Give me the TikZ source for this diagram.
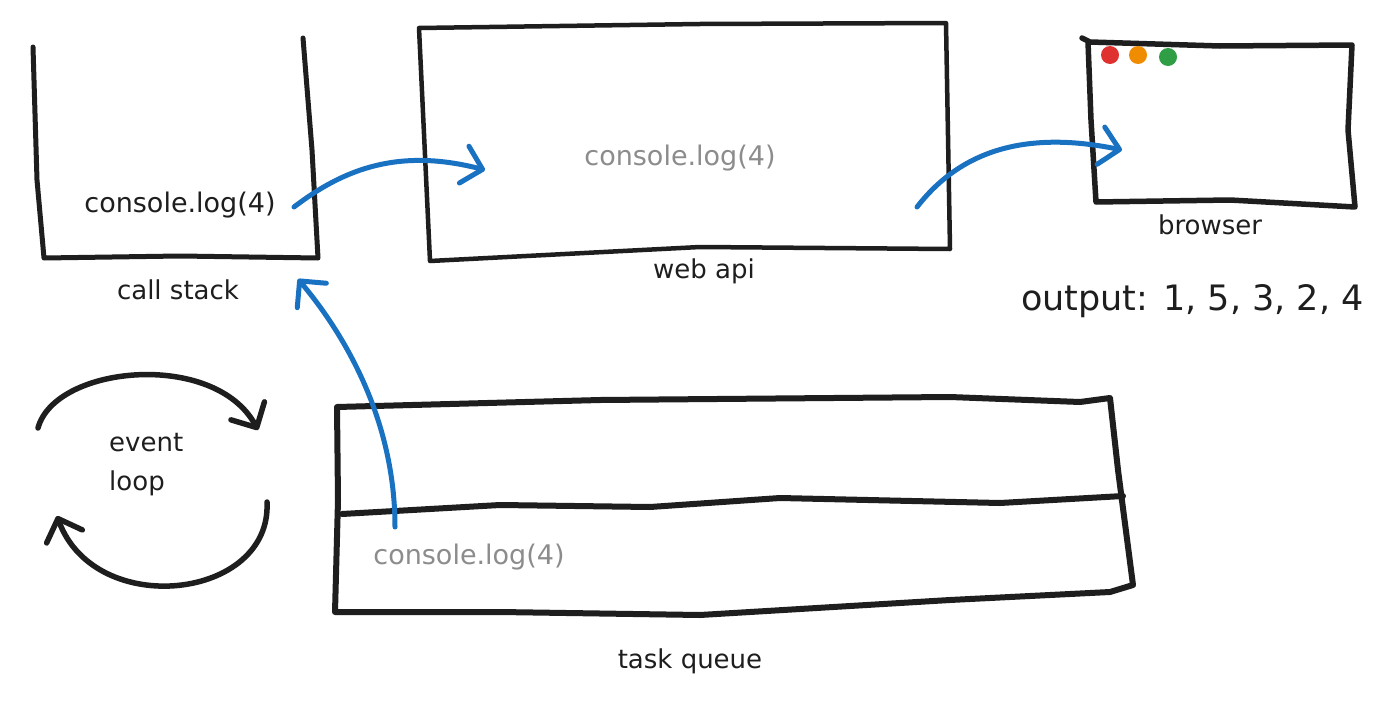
\documentclass[tikz,border=0pt]{standalone}
\usepackage{fontspec}
\setmainfont{DejaVu Sans}
\usetikzlibrary{arrows.meta}
\definecolor{ink}{HTML}{1E1E1E}
\definecolor{arrowblue}{HTML}{1971C2}
\definecolor{softgray}{HTML}{8C8C8C}
\definecolor{dotred}{HTML}{E03131}
\definecolor{dotorange}{HTML}{F08C00}
\definecolor{dotgreen}{HTML}{2F9E44}
\tikzset{
  sketch/.style={draw=ink, line width=5pt, line cap=round, line join=round},
  flow/.style={draw=arrowblue, line width=5pt, line cap=round,
    -{Straight Barb[length=19pt, width=38pt, line cap=round, line join=round]}},
  loopflow/.style={draw=ink, line width=5.5pt, line cap=round,
    -{Straight Barb[length=19pt, width=38pt, line cap=round, line join=round]}},
  codetext/.style={font=\fontsize{27}{32}\selectfont, text=ink, inner sep=0pt},
  ghosttext/.style={font=\fontsize{27}{32}\selectfont, text=softgray, inner sep=0pt},
  labeltext/.style={font=\fontsize{26}{31}\selectfont, text=ink, inner sep=0pt},
  dot/.style={circle, inner sep=0pt, minimum size=18pt}
}
\begin{document}
\begin{tikzpicture}[x=1pt, y=-1pt]
\useasboundingbox[fill=white] (0,0) rectangle (1400,704);

% call stack (open top)
\draw[sketch] (33,47) -- (37,180) -- (44,258) -- (180,256) -- (318,258) -- (312,150) -- (303,38);
\node[codetext] (cslog) at (180,205) {console.log(4)};
\node[labeltext] (cslabel) at (178,290) {call stack};

% web api
\draw[sketch, line width=4.5pt] (419,28) -- (700,24) -- (946,23) -- (950,249) -- (700,247) -- (430,261) -- cycle;
\node[ghosttext] (walog) at (680,158) {console.log(4)};
\node[labeltext] (walabel) at (704,271) {web api};

% browser
\draw[sketch, line width=5.5pt] (1082,38) -- (1090,42) -- (1220,46) -- (1352,45) -- (1348,130) -- (1355,207) -- (1230,200) -- (1096,202) -- (1091,120) -- (1088,42);
\node[dot, fill=dotred] (red) at (1110,55) {};
\node[dot, fill=dotorange] (orange) at (1138,55) {};
\node[dot, fill=dotgreen] (green) at (1168,57) {};
\node[labeltext] (brlabel) at (1210,225) {browser};

\node[font=\fontsize{35}{42}\selectfont, text=ink, inner sep=0pt, anchor=west] (output) at (1021,301) {output: 1, 5, 3, 2, 4};

% task queue
\draw[sketch, line width=6pt] (337,407) -- (600,400) -- (950,397) -- (1080,402) -- (1110,398) -- (1118,470) -- (1133,585) -- (1110,592) -- (950,600) -- (700,615) -- (500,612) -- (335,612) -- (338,500) -- cycle;
\draw[sketch, line width=6pt] (342,514) -- (500,505) -- (650,507) -- (780,498) -- (1000,503) -- (1123,496);
\node[ghosttext] (tqlog) at (469,557) {console.log(4)};
\node[labeltext] (tqlabel) at (690,661) {task queue};

% event loop
\node[labeltext, anchor=north west, align=left, font=\fontsize{26}{39}\selectfont] (evl) at (109,433) {event\\loop};
\coordinate (loopA) at (38,428);
\coordinate (loopB) at (258,430);
\coordinate (loopC) at (267,502);
\coordinate (loopD) at (57,516);
\draw[loopflow] (loopA) .. controls (55,365) and (215,350) .. (loopB);
\draw[loopflow] (loopC) .. controls (272,600) and (95,620) .. (loopD);

% blue arrows
\coordinate (csout) at (294,207);
\coordinate (wain) at (485,170);
\coordinate (waout) at (917,207);
\coordinate (brin) at (1122,150);
\coordinate (tqout) at (395,527);
\coordinate (csin) at (298,279);
\draw[flow] (csout) .. controls (345,168) and (400,148) .. (wain);
\draw[flow] (waout) .. controls (955,158) and (1015,128) .. (brin);
\draw[flow] (tqout) .. controls (395,420) and (345,335) .. (csin);
\end{tikzpicture}
\end{document}
